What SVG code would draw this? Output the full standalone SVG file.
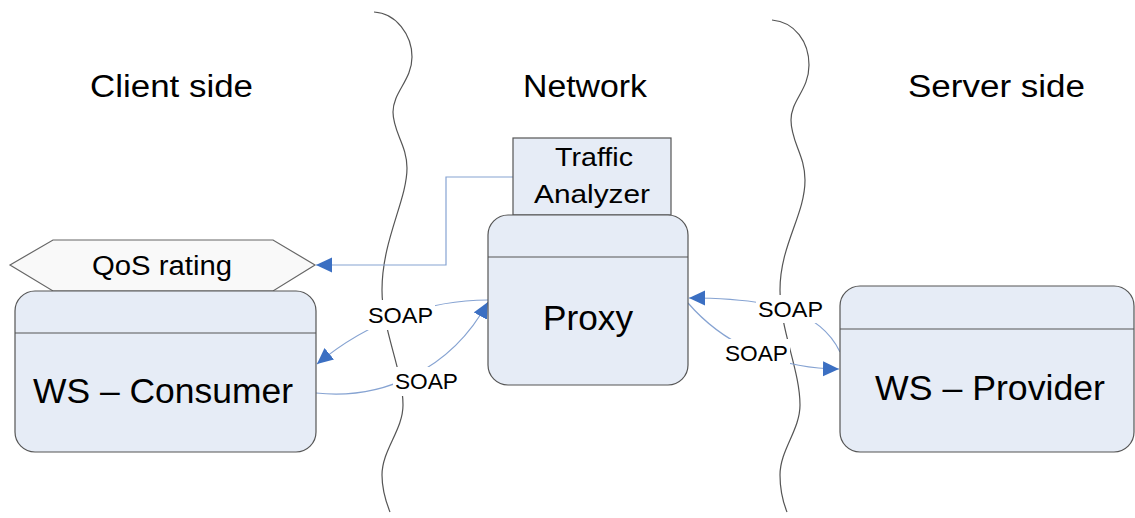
<svg xmlns="http://www.w3.org/2000/svg" width="1135" height="518" viewBox="0 0 1135 518">
  <style>
    text { font-family: "Liberation Sans", Arial, sans-serif; fill: #000; }
    .head { font-size: 31px; }
    .big { font-size: 35px; }
    .mid { font-size: 26px; }
    .soap { font-size: 22px; }
    .box { fill: #E6ECF6; stroke: #555; stroke-width: 1.2; }
    .div { stroke: #555; stroke-width: 1.2; }
    .wave { fill: none; stroke: #555; stroke-width: 1.2; }
    .conn { fill: none; stroke: #86A3D2; stroke-width: 1.2; }
    .lblbg { fill: #fff; }
  </style>
  <defs>
    <marker id="arrow" markerUnits="userSpaceOnUse" markerWidth="18" markerHeight="16" refX="16" refY="7.5" orient="auto">
      <path d="M0,0 L16,7.5 L0,15 Z" fill="#3B6FC2"/>
    </marker>
  </defs>
  <rect width="1135" height="518" fill="#fff"/>

  <!-- zone boundaries -->
  <g id="boundaries">
    <path class="wave" d="M374,12 C396,13 412,35 412,57 C412,80 393,92 393,112 C393,132 407,145 407,168 C407,200 382,240 382,290 C382,330 403,370 403,405 C403,430 382,450 382,475 C382,490 386,502 390,512"/>
    <path class="wave" d="M772,20 C795,22 809,42 809,65 C809,90 791,100 791,120 C791,142 805,155 805,180 C805,215 780,245 780,290 C780,330 800,370 800,405 C800,430 780,450 780,475 C780,490 783,502 787,512"/>
  </g>

  <!-- zone headings -->
  <g id="headings">
    <text class="head" x="90" y="97" textLength="163" lengthAdjust="spacingAndGlyphs">Client side</text>
    <text class="head" x="523" y="97" textLength="124" lengthAdjust="spacingAndGlyphs">Network</text>
    <text class="head" x="908" y="97" textLength="177" lengthAdjust="spacingAndGlyphs">Server side</text>
  </g>

  <!-- connectors -->
  <g id="connectors">
    <path class="conn" d="M513,177 H446 V265 H316" marker-end="url(#arrow)"/>
    <path class="conn" d="M488,300 C430,300 370,320 317,364" marker-end="url(#arrow)"/>
    <path class="conn" d="M316,393 C380,400 450,372 488,302" marker-end="url(#arrow)"/>
    <path class="conn" d="M840,352 C820,310 770,298 689,298" marker-end="url(#arrow)"/>
    <path class="conn" d="M688,303 C720,340 770,368 839,369" marker-end="url(#arrow)"/>
  </g>

  <!-- connector labels -->
  <g id="labels">
    <rect class="lblbg" x="366" y="300" width="69" height="30"/>
    <text class="soap" x="368" y="323" textLength="65" lengthAdjust="spacingAndGlyphs">SOAP</text>
    <rect class="lblbg" x="393" y="367" width="67" height="29"/>
    <text class="soap" x="395" y="389" textLength="63" lengthAdjust="spacingAndGlyphs">SOAP</text>
    <rect class="lblbg" x="756" y="295" width="69" height="28"/>
    <text class="soap" x="758" y="317" textLength="65" lengthAdjust="spacingAndGlyphs">SOAP</text>
    <rect class="lblbg" x="723" y="339" width="67" height="27"/>
    <text class="soap" x="725" y="361" textLength="63" lengthAdjust="spacingAndGlyphs">SOAP</text>
  </g>

  <!-- QoS rating display -->
  <g id="qos-rating">
    <polygon points="10,265 53,240 273,240 315,265 273,291 53,291" fill="#F9F9F9" stroke="#666" stroke-width="1.2"/>
    <text class="mid" x="92" y="275" textLength="140" lengthAdjust="spacingAndGlyphs" style="font-size:27px">QoS rating</text>
  </g>

  <!-- WS consumer -->
  <g id="ws-consumer">
    <rect class="box" x="15" y="291" width="301" height="161" rx="20" ry="20"/>
    <line class="div" x1="15" y1="333" x2="316" y2="333"/>
    <text class="big" x="33" y="403" textLength="260" lengthAdjust="spacingAndGlyphs">WS – Consumer</text>
  </g>

  <!-- traffic analyzer -->
  <g id="traffic-analyzer">
    <rect class="box" x="513" y="138" width="158" height="77"/>
    <text class="mid" x="555" y="166" textLength="78" lengthAdjust="spacingAndGlyphs">Traffic</text>
    <text class="mid" x="534" y="203" textLength="116" lengthAdjust="spacingAndGlyphs">Analyzer</text>
  </g>

  <!-- proxy -->
  <g id="proxy">
    <rect class="box" x="488" y="215" width="200" height="170" rx="20" ry="20"/>
    <line class="div" x1="488" y1="257" x2="688" y2="257"/>
    <text class="big" x="543" y="330" textLength="90" lengthAdjust="spacingAndGlyphs">Proxy</text>
  </g>

  <!-- WS provider -->
  <g id="ws-provider">
    <rect class="box" x="840" y="286" width="294" height="166" rx="20" ry="20"/>
    <line class="div" x1="840" y1="329" x2="1134" y2="329"/>
    <text class="big" x="875" y="400" textLength="230" lengthAdjust="spacingAndGlyphs">WS – Provider</text>
  </g>
</svg>
